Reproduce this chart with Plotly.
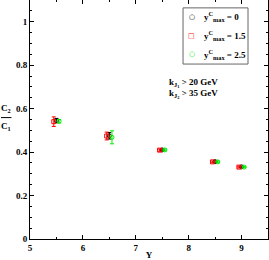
import plotly.graph_objects as go

Y_black = [5.5, 6.5, 7.5, 8.5, 9.0]
Y_red = [5.45, 6.45, 7.45, 8.45, 8.95]
Y_green = [5.55, 6.55, 7.55, 8.55, 9.05]
v_black = [0.545, 0.475, 0.41, 0.356, 0.332]
v_red = [0.54, 0.474, 0.409, 0.355, 0.331]
v_green = [0.542, 0.468, 0.41, 0.355, 0.331]
e_black = [0.01, 0.015, 0.004, 0.004, 0.003]
e_red = [0.022, 0.018, 0.005, 0.004, 0.004]
e_green = [0.008, 0.03, 0.004, 0.004, 0.003]
names = ["y<sup>C</sup><sub>max</sub> = 0", "y<sup>C</sup><sub>max</sub> = 1.5", "y<sup>C</sup><sub>max</sub> = 2.5"]
colors = ["black", "red", "#00ee00"]
glyphs = ["○", "□", "○"]

FAM = "Liberation Serif"
font = dict(family=FAM, size=9, color="black")
bfont = dict(family=FAM, size=9, color="black", weight="bold")
fig = go.Figure()
series = [(Y_black, v_black, e_black, "circle-open"),
          (Y_red, v_red, e_red, "square-open"),
          (Y_green, v_green, e_green, "circle-open")]
for (xs, ys, es, sym), nm, col in zip(series, names, colors):
    fig.add_trace(go.Scatter(x=xs, y=ys, mode="markers", name=nm, showlegend=False,
        marker=dict(symbol=sym, size=4, color=col, line=dict(width=1, color=col)),
        error_y=dict(type="data", array=es, color=col, thickness=1, width=2)))

axis_common = dict(showgrid=False, zeroline=False, showline=True, linecolor="black", linewidth=1,
                   mirror="allticks", ticks="inside", ticklen=4, tickcolor="black",
                   automargin=False, tickfont=bfont, tickprefix="<b>", ticksuffix="</b>")
fig.update_xaxes(range=[5, 9.5], dtick=1, tick0=5,
                 minor=dict(dtick=0.5, ticks="inside", ticklen=2, tickcolor="black"),
                 title=dict(text="<b>Y</b>", font=font, standoff=0), **axis_common)
fig.update_yaxes(range=[0, 1.1], dtick=0.2, tick0=0, tickformat="~g",
                 minor=dict(dtick=0.05, ticks="inside", ticklen=2, tickcolor="black"),
                 **axis_common)

# y-axis label as a fraction C2 / C1
fig.add_annotation(x=-0.10, y=0.515, xref="paper", yref="paper", text="<b>C<sub>2</sub></b>",
                   showarrow=False, font=font, xanchor="center", yanchor="bottom")
fig.add_annotation(x=-0.10, y=0.502, xref="paper", yref="paper", text="<b>C<sub>1</sub></b>",
                   showarrow=False, font=font, xanchor="center", yanchor="top")
fig.add_shape(type="line", xref="paper", yref="paper", x0=-0.122, x1=-0.078, y0=0.508, y1=0.508,
              line=dict(color="black", width=1))

# legend box
fig.add_shape(type="rect", xref="paper", yref="paper", x0=0.643, x1=0.916, y0=0.732, y1=0.967,
              line=dict(color="#666666", width=1), fillcolor="white", layer="above")
for i, (nm, col, g) in enumerate(zip(names, colors, glyphs)):
    yy = [0.929, 0.851, 0.774][i]
    fig.add_annotation(x=0.68, y=yy, xref="paper", yref="paper", text="<b>" + g + "</b>", showarrow=False,
                       font=dict(family="DejaVu Sans", size=7, color=col), xanchor="center", yanchor="middle")
    fig.add_annotation(x=0.722, y=yy, xref="paper", yref="paper", text="<b>" + nm + "</b>", showarrow=False,
                       font=font, xanchor="left", yanchor="middle")

fig.add_annotation(x=0.798, y=0.685, xref="paper", yref="paper",
                   text="<b>k<sub>J<sub>1</sub></sub> > 20 GeV</b>", showarrow=False, font=font)
fig.add_annotation(x=0.798, y=0.608, xref="paper", yref="paper",
                   text="<b>k<sub>J<sub>2</sub></sub> > 35 GeV</b>", showarrow=False, font=font)

fig.update_layout(width=269, height=260, margin=dict(l=30, r=1, t=0, b=21, autoexpand=False),
                  plot_bgcolor="white", paper_bgcolor="white", font=font, showlegend=False)
fig.write_html("out.html", config={"displayModeBar": False},
               post_script="document.body.style.margin='0';")
